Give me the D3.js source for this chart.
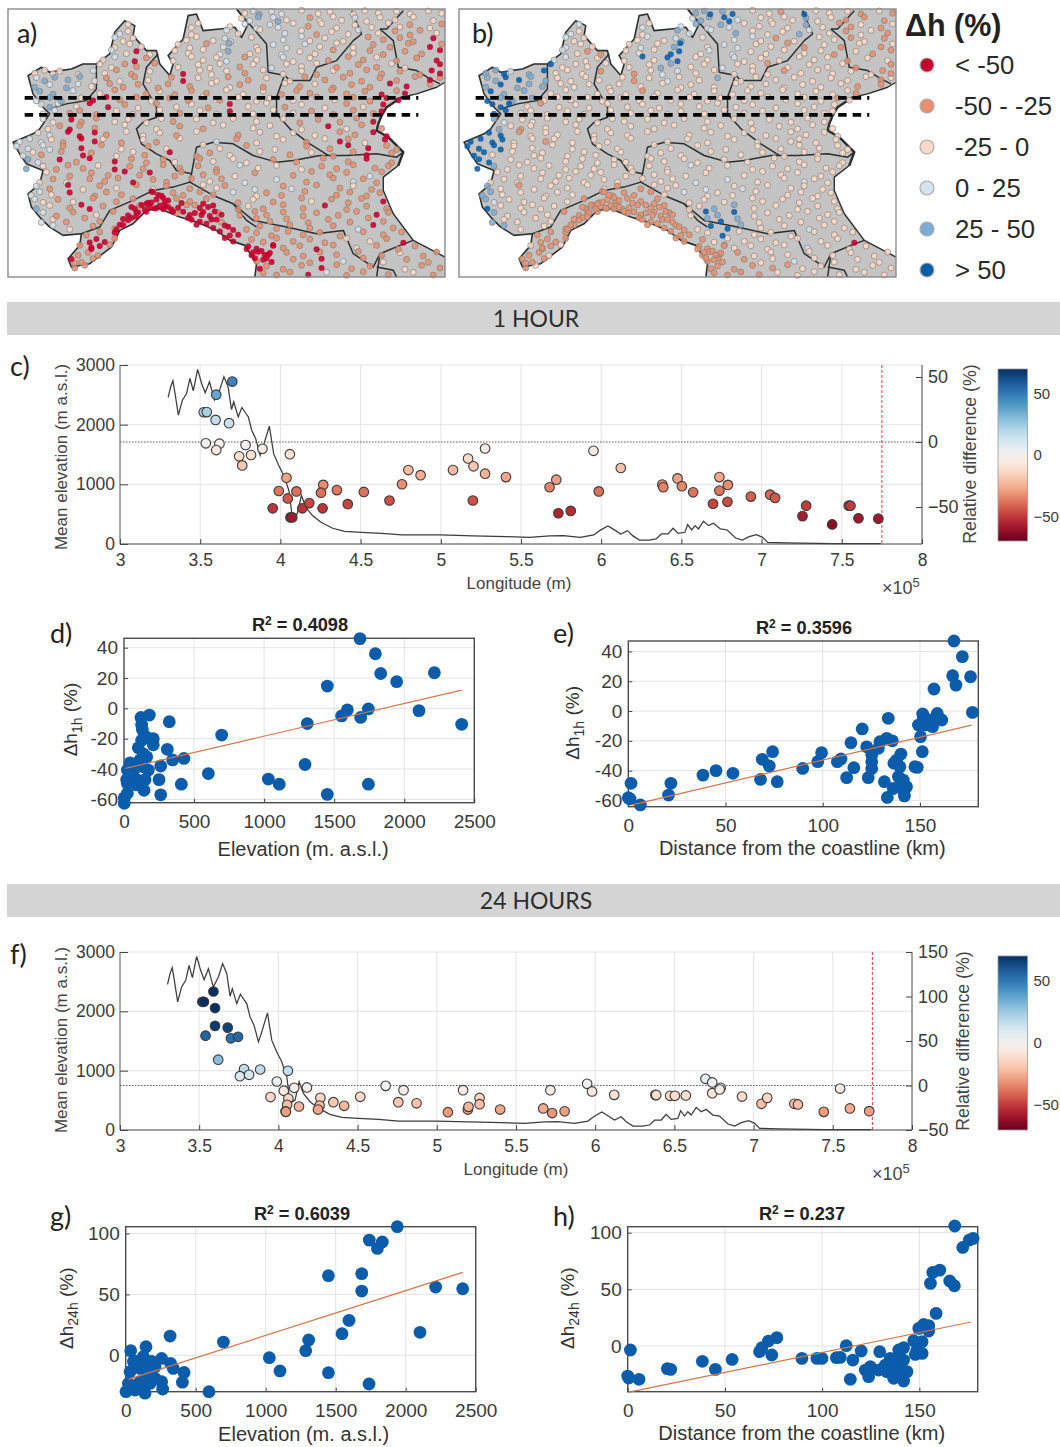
<!DOCTYPE html>
<html><head><meta charset="utf-8">
<script src="https://cdn.jsdelivr.net/npm/d3@7"></script>
<style>
html,body{margin:0;padding:0;background:#fff}
svg{display:block}
text{font-family:"Liberation Sans",Arial,sans-serif;fill:#3a3a3a}
.soft{font-family:Lato,"Open Sans",sans-serif}
</style></head><body>
<svg id="c" width="1060" height="1447"></svg>
<script>
// ---------- elevation profile (shared by panels c and f) ----------
const profileLon=[3.30,3.316,3.33,3.343,3.364,3.389,3.415,3.436,3.457,3.484,3.509,3.531,3.558,3.589,3.621,3.648,3.674,3.695,3.709,3.737,3.76,3.785,3.80,3.821,3.846,3.874,3.895,3.931,3.958,3.989,4.021,4.053,4.074,4.105,4.131,4.158,4.20,4.253,4.326,4.40,4.505,4.632,4.758,5,5.2,5.41,5.554,5.68,5.764,5.87,5.954,5.99,6.042,6.09,6.122,6.164,6.196,6.238,6.30,6.343,6.375,6.417,6.448,6.48,6.522,6.539,6.564,6.585,6.606,6.638,6.669,6.70,6.743,6.785,6.838,6.88,6.922,6.968,7.006,7.038,7.154,7.448,7.743];
const profileElev=[2456,2635,2736,2523,2159,2411,2523,2776,2568,2927,2691,2534,2719,2411,2579,2804,2635,2254,2383,2131,2288,2187,2131,1906,1766,1486,1654,1974,1514,1318,1149,897,449,505,813,617,477,364,264,213,196,179,151,151,135,123,112,135,140,112,151,224,303,224,168,224,140,67,67,84,168,168,264,179,196,325,235,308,252,381,308,348,252,235,101,67,123,157,112,28,17,6,6];
// ---------- panel c ----------
const lon1h=[3.70,3.60,3.522,3.541,3.596,3.68,3.535,3.62,3.60,3.783,3.888,3.743,3.817,3.762,4.059,4.038,3.99,4.10,4.046,3.952,4.063,4.074,4.137,4.18,4.267,4.253,4.263,4.352,4.42,4.52,4.68,4.758,4.798,4.874,5.076,5.17,5.204,5.20,5.276,5.276,5.406,5.678,5.72,5.733,5.81,5.952,5.985,6.122,6.381,6.387,6.476,6.503,6.573,6.697,6.737,6.737,6.79,6.787,6.933,7.053,7.084,7.255,7.278,7.44,7.543,7.554,7.604,7.728];
const val1h=[46.5,36.4,22.9,23,17,14.5,-1,-1.3,-6.2,-2.3,-5.2,-11,-10,-18,-9.4,-27.5,-37.7,-38,-43.4,-51,-58,-58,-51,-47,-33,-39,-51,-37,-47.8,-38.4,-45,-32.5,-21.6,-25.5,-21.6,-12.7,-18.7,-45,-5,-24.4,-27,-34.8,-29,-54.8,-53,-6.8,-38,-20,-32.7,-34.8,-28,-34,-38.7,-47.5,-27,-37.4,-33,-46,-42,-40.5,-43,-57,-49,-63.4,-49,-49,-58.7,-59];
// ---------- panel f ----------
const lon24h=[3.52,3.53,3.59,3.60,3.60,3.68,3.54,3.70,3.745,3.62,3.783,3.757,3.815,3.885,4.06,3.99,4.034,4.10,4.18,3.95,4.063,4.055,4.045,4.047,4.13,4.265,4.26,4.25,4.347,4.415,4.517,4.677,4.757,4.79,4.872,5.07,5.166,5.196,5.2,5.27,5.27,5.40,5.672,5.717,5.728,5.807,5.949,5.98,6.12,6.38,6.385,6.473,6.503,6.572,6.696,6.739,6.739,6.792,6.786,6.927,7.05,7.086,7.257,7.28,7.443,7.546,7.608,7.73];
const val24h=[94,94,105.6,87,67,65,56,53,54.7,29,18.4,10.5,12,18,16.5,4.5,-6,-2.6,-2.2,-13,-14.6,-21.7,-29,-29.6,-23.6,-13.9,-22.5,-27,-18.7,-22.8,-12.7,-0.4,-18.7,-5.2,-20,-30,-5.2,-27,-24,-14,-21,-27,-25.8,-5.2,-31,-29,1.9,-6.7,-10.5,-10.5,-10.8,-11.6,-11.6,-11.2,7.5,3.4,-8.6,-2.6,-4.5,-12.4,-20.6,-13.9,-20.6,-21.3,-29.6,-3.4,-25.8,-28.8];
// ---------- panel d ----------
const elevD=[1684,1794,1832,1946,2215,1451,2105,2410,1744,1594,1553,1689,1308,1292,1744,1451,1108,1030,697,602,323,428,309,347,409,250,262,262,181,121,126,131,209,209,162,126,102,138,162,114,138,174,90,43,24,19,90,150,143,90,24,2,2,24,67];
const valD=[46,36,23,17.6,23.5,14.7,-1.5,-10.5,-0.4,-1,-5,-6,-10,-37,-50,-56.7,-50,-46.6,-17.6,-43,-8.8,-33,-27,-34,-50,-47,-57,-38,-4.4,-6,-11,-14,-20,-24,-19,-21,-26,-30,-32,-34,-38.5,-40.7,-38.5,-36,-40.7,-47,-47,-47,-54,-50.5,-56,-59,-62.6,-49.5,-41];
const fitDx=[10,2410], fitDy=[-39.6,12];
// ---------- panel e ----------
const distE=[167.5,171.8,166.8,176,168.5,157.2,177,133.7,151.4,158.9,151.7,155.2,161.2,149.2,152.6,156.5,120.3,150.3,151.2,114.5,122.6,129.4,128.6,132.9,135.8,125.2,125.2,125.2,123.4,140.2,138,136.6,139.7,147.4,148.6,138.9,141.4,131.7,136.3,143.1,139.7,133.2,142,141.8,112.3,116,107.5,109.4,99.4,97.4,89.7,74.2,68.9,72.5,68,76.6,53.8,45.1,38.4,21.9,20.7,1.4,0,0.9,6.2];
const valE=[47,36.5,23.7,23,17.4,14.8,-0.9,-4.9,-2,-1.6,-5.6,-6,-6,-9.4,-9.4,-10.5,-12,-17.2,-27.3,-21.3,-24,-20.6,-25,-18.3,-20,-29.5,-34,-38.5,-44.7,-28.9,-32.9,-35,-37.4,-37.4,-37.8,-44,-46.3,-47.4,-52,-50.8,-50.8,-58,-57,-54,-44.7,-38,-34,-32.2,-28,-34,-38.5,-27.3,-32.4,-36.9,-45.9,-47.4,-41.8,-40,-43,-48.5,-56.4,-48.5,-58.2,-59,-63];
const fitEx=[2,176.6], fitEy=[-63,-9.4];
// ---------- panel g ----------
const elevG=[1940,1740,1833,1798,1448,1686,1686,2214,2407,1595,1545,2102,698,317,1307,1286,1026,1102,1448,1738,595,145,36,257,321,340,417,405,257,264,186,126,79,150,210,31,102,210,174,138,102,67,2,19,79,150,102,55];
const valG=[105.5,94.5,93,87.7,65.3,67,52.7,56,54.6,28.7,17.8,18.9,10.9,15.8,12.6,3.8,-1.9,-12.8,-14.2,-23.5,-29.8,7.1,3.8,-2.5,-6.6,-10.7,-14,-22,-21.6,-27.6,-5,-1,-5,-8,-9.3,-13.4,-10.7,-18.9,-23,-31,-27,-28.4,-29.8,-23,-24.3,-16,-21.6,-5];
const fitGx=[19,2407], fitGy=[-19.7,68];
// ---------- panel h ----------
const distH=[168.2,172.3,175.7,177.6,156.9,160.5,155.7,165.6,168,158.6,149.7,152.2,154.8,154.8,147.1,151.4,148.8,151.4,147.9,141.9,139.4,112.4,120.1,129.6,115.8,114.5,141.9,138.5,135,132.5,136.8,140.2,124.8,122.2,129,123.9,133.3,136.8,141.9,143.6,139.4,89.6,97.3,99.9,107.3,109.3,76.7,72.4,69,67.8,74.1,53.7,45.1,38.4,20.4,22.1,1.4,0,0.5,5.8];
const valH=[105.9,87,93.5,95,65,67,55.3,57.4,53.2,28.8,15.6,19,18,13.2,4.7,3.8,-3.5,-6.5,-7.4,-1.5,-3.5,0.3,-4.4,-5,-12.4,-29.4,-12.4,-10.9,-10.9,-16.8,-16.8,-19.7,-18.2,-21.2,-21.2,-27,-22.6,-28.5,-30.9,-22.6,-24,-10.9,-10.9,-10.9,-10.3,-10,7.4,4.4,-1.5,-5,-7.9,-11.8,-20.6,-13.5,-20,-20.6,-3.5,-26.5,-28.2,-29.4];
const fitHx=[0,176.6], fitHy=[-40.9,21.2];
// ---------- maps: land outline and internal borders, map units ----------
const coastEastX=[1335,1310,1250,1205,1160,1145,1135,1130,1165,1210,1195,1150,1150,1180,1240,1335];
const coastEastY=[245,260,280,290,320,345,370,390,410,455,495,530,570,640,720,770];
const coastWestX=[765,770,735,690,650,590,540,480,440,400,360,335,270,215,205,240,245,190,150,120,95,85,120,130,80,60,40,100,120,150,130,100,85,125,150,180,215,250,290,330,345,375,405,400,440,470,480,510,520,505,550,565,590,610,660,705,725,745,710];
const coastWestY=[830,790,735,720,690,665,650,625,630,670,690,740,790,800,775,735,700,705,680,650,620,580,550,510,490,460,425,400,385,340,320,280,225,200,215,210,205,190,190,160,95,60,75,105,150,150,190,225,190,165,115,45,40,90,85,80,110,70,25];
const borders=[
 [[150,325,200,310,260,300,290,265,290,190]],
 [[475,160,440,200,430,250,470,320,470,350,430,365,410,385,425,430,470,460,510,480,530,510,575,520,570,545]],
 [[245,700,300,680,330,630,400,600,460,570,520,560,570,545,640,585,700,610,740,660,770,680]],
 [[575,520,590,440,640,425,700,430,760,465,830,485,880,480,960,465,1040,465,1130,460,1190,470,1210,455]],
 [[855,220,830,290,830,340,870,385,930,430,985,465]],
 [[710,25,800,130,805,215,855,225,870,240,930,240,950,200,1010,180,1060,120,1085,100,1055,30]],
 [[1140,85,1180,120,1195,200,1250,210,1290,235,1320,250]],
 [[1210,30,1160,85,1140,85]],
 [[700,610,760,660,860,680,950,700,1030,690,1060,760,1120,800,1140,760,1200,735,1240,720]],
 [[1140,760,1130,830]],[[1130,800,1180,810,1190,830]]
];
const transectY=[292,343], transectX=[75,1255];
// stations: row y, then "x,dy:ab" where dy refines y and a/b are the class in map a / map b
const stationRows=[
[35,"735,3:24 760,-4:34 778,6:45 815,-3:34 845,5:35 905,-6:22 955,4:22 990,-2:21 1060,6:25 1095,-5:22 1135,2:22 1190,-3:22 1230,5:21 1285,-4:22 1325,3:21"],
[55,"725,-2:23 750,5:34 775,-6:44 835,7:45 820,-5:35 860,3:23 930,-4:12 960,6:22 1000,-7:22 1025,4:22 1065,-3:34 1100,7:22 1140,-5:22 1185,3:21 1240,-6:21 1300,5:21"],
[75,"385,-4:23 575,6:23 595,-7:22 690,3:23 735,-5:34 770,8:33 810,-3:34 835,5:33 880,-7:22 925,2:12 965,-6:22 1010,7:22 1065,-2:24 1115,5:22 1165,-8:21 1200,4:21 1230,-3:12 1290,7:21 1325,-5:12"],
[95,"360,5:33 385,-3:22 575,7:22 680,-6:34 715,4:23 780,-8:23 855,3:34 905,-5:22 950,7:12 995,-2:22 1045,6:24 1075,-7:33 1135,3:22 1185,-4:11 1230,8:12 1260,-6:12 1310,2:21"],
[115,"345,-5:33 370,7:22 400,-3:22 560,4:22 590,-7:23 640,5:22 675,-2:33 692,8:34 755,-5:22 850,3:33 905,-8:33 930,6:22 975,-3:21 1030,7:22 1105,-6:12 1150,2:12 1200,-4:11 1240,8:12 1300,-2:01"],
[135,"345,6:23 390,-5:22 425,3:22 535,-4:22 570,7:23 620,-6:12 670,4:34 688,-7:45 770,5:22 820,-3:33 860,7:33 915,-5:32 960,3:22 1010,-8:21 1060,6:21 1120,-3:12 1170,5:11 1225,-7:12 1290,4:01 1325,-5:12"],
[155,"335,-7:33 380,4:22 410,-3:01 450,7:21 525,-5:22 565,3:22 610,-8:22 660,6:35 685,-3:45 750,5:22 775,-6:23 845,7:33 900,-2:22 945,5:22 1000,-7:12 1060,3:22 1110,-5:12 1150,7:11 1215,-3:12 1265,5:11 1320,-6:01"],
[175,"310,3:23 345,-6:33 405,7:02 440,-3:12 520,6:22 575,-7:25 610,4:22 650,-4:25 680,7:35 735,-6:12 770,3:22 850,-5:33 880,8:22 930,-3:22 985,5:12 1045,-7:12 1090,3:12 1130,-5:22 1190,6:11 1250,-3:12 1310,5:02"],
[195,"300,-4:25 335,6:22 375,-5:12 410,3:12 465,-7:12 535,5:22 595,-3:22 630,7:24 660,-6:24 720,4:12 760,-4:22 815,7:33 860,-5:22 905,3:22 950,-7:21 1010,6:12 1075,-3:12 1130,5:12 1175,-6:22 1215,7:21 1320,-4:01"],
[215,"105,3:24 135,-6:24 160,5:25 180,-3:23 235,7:24 280,-5:35 315,3:22 350,-7:12 395,6:12 450,-3:21 550,5:01 600,-6:22 635,7:23 680,-4:23 735,3:12 790,-7:22 850,6:22 905,-4:22 950,7:12 1000,-5:21 1050,3:12 1100,-7:12 1145,5:12 1200,-3:12 1260,7:12 1295,-5:01 1320,4:01"],
[235,"110,-4:34 135,6:44 165,-5:45 205,3:45 240,-7:44 285,6:34 320,-3:12 360,7:22 405,-6:12 445,4:22 515,-5:12 550,6:01 595,-3:22 650,7:23 685,-6:12 745,4:12 800,-3:24 870,7:22 915,-6:12 975,3:12 1030,-5:12 1085,7:12 1140,-3:12 1190,5:12 1245,-7:12 1290,3:01 1320,-4:12"],
[255,"105,5:44 150,-3:35 200,7:44 235,-5:34 275,3:24 330,-6:12 370,5:12 415,-4:12 475,7:12 505,-5:12 570,3:12 635,-7:22 690,6:22 720,-3:12 790,5:12 855,-7:22 900,3:12 945,-5:22 1000,7:12 1055,-3:12 1110,5:12 1170,-6:02 1220,3:01 1290,-4:11"],
[275,"120,-3:45 160,6:44 220,-5:34 300,4:22 345,-7:12 440,5:12 480,-3:22 525,7:12 575,-5:11 620,3:12 680,-7:22 730,6:22 790,-4:22 845,7:12 890,-5:12 930,3:12 995,-7:12 1040,5:12 1095,-3:12 1145,7:02 1190,-5:12 1215,4:01"],
[295,"110,6:35 150,-4:44 185,7:44 245,-3:24 280,5:02 320,-6:02 360,3:12 410,-5:12 455,7:22 510,-3:12 565,5:12 610,-7:22 660,4:12 715,-5:22 770,7:22 810,-3:22 880,5:22 950,-6:12 1005,3:22 1060,-5:12 1110,7:12 1160,-3:01 1195,4:02"],
[315,"125,-4:35 150,5:45 175,-6:35 230,3:22 270,-7:01 325,5:02 375,-3:12 415,7:22 470,-6:12 530,4:22 575,-4:22 625,7:12 690,-5:02 745,3:22 800,-7:22 855,5:12 905,-3:22 975,7:22 1040,-6:12 1090,4:22 1150,-3:02"],
[335,"130,5:35 165,-6:35 210,3:12 240,-5:12 290,7:12 350,-4:22 400,6:22 480,-7:22 540,3:12 600,-5:22 650,7:22 690,-3:02 760,5:22 820,-7:22 880,3:22 935,-4:12 1000,7:12 1060,-6:12 1120,4:12 1145,-3:02"],
[360,"130,-5:34 160,6:23 215,-3:02 245,5:12 290,-7:12 345,4:22 385,-4:22 440,7:22 485,-6:22 520,3:12 590,-4:22 640,7:22 700,-6:22 770,3:22 850,-5:22 900,7:12 955,-3:12 1020,5:12 1070,-7:12 1120,4:02"],
[380,"145,6:24 180,-4:12 210,7:01 240,-5:12 285,3:12 375,-7:22 470,6:22 540,-3:12 610,5:12 670,-6:22 760,3:22 810,-5:22 905,7:22 985,-3:02 1040,5:22 1085,-7:12 1145,4:12"],
[400,"115,-3:25 150,5:35 205,-6:01 240,7:02 285,-4:02 320,3:12 380,-7:22 430,6:22 480,-3:22 530,5:12 590,-7:22 715,4:12 780,-5:22 830,7:22 880,-3:22 945,5:22 1020,-6:12 1065,3:12 1120,-5:02 1160,7:02"],
[420,"60,4:35 90,-5:35 125,6:35 155,-3:25 190,7:12 245,-6:02 285,3:01 310,-5:22 365,7:12 430,-3:22 470,5:12 540,-7:22 650,4:32 710,-5:12 770,7:22 850,-3:22 920,5:12 975,-6:22 1020,3:02 1045,-5:12 1095,7:22 1155,-3:02"],
[440,"50,-3:35 85,5:35 130,-6:35 150,7:35 190,-4:12 245,3:02 305,-7:12 365,6:22 445,-3:12 500,5:22 610,-7:22 660,4:22 740,-5:12 825,7:22 920,-3:12 990,5:12 1045,-6:02 1105,3:02 1160,-5:12 1190,7:12"],
[460,"70,6:35 100,-5:25 125,3:12 185,-7:12 250,5:02 275,-3:12 350,7:22 400,-6:22 435,4:12 510,-5:02 590,7:12 630,-3:12 690,5:22 780,-7:22 870,3:12 935,-4:22 1000,7:12 1060,-6:12 1100,4:02 1175,-3:12"],
[480,"85,-4:45 115,6:35 180,-3:02 230,5:12 270,-7:02 345,3:02 395,-5:12 440,7:12 490,-3:12 525,5:22 600,-6:12 640,3:22 700,-5:22 740,7:22 820,-3:12 890,5:12 970,-7:12 1045,4:12 1100,-5:02 1175,7:12"],
[500,"80,5:45 130,-3:24 170,7:12 205,-6:12 250,4:12 295,-5:22 345,7:02 390,-3:12 430,5:12 490,-7:12 540,3:12 595,-4:12 650,7:12 720,-6:33 775,3:22 830,-5:22 905,7:22 965,-3:12 1010,5:12 1060,-7:12 1125,3:12 1165,-4:12"],
[520,"140,-5:22 210,7:12 275,-3:12 325,5:12 375,-7:02 420,4:12 450,-4:02 525,7:12 545,-6:12 610,3:12 650,-5:12 705,7:22 765,-3:12 880,5:12 935,-7:12 990,3:12 1040,-4:12 1110,7:32 1145,-6:12"],
[540,"120,6:22 160,-4:12 200,7:22 270,-5:12 315,3:12 355,-7:12 400,6:02 460,-3:12 500,5:12 575,-6:12 630,3:22 665,-5:12 735,7:33 830,-3:33 920,5:12 1000,-7:12 1060,4:33 1090,-5:12 1130,7:12"],
[560,"110,-3:34 150,5:12 205,-6:01 250,7:22 300,-4:12 350,3:22 410,-7:12 460,6:22 500,-3:11 570,5:11 610,-7:22 650,3:22 675,-5:12 765,7:33 850,-3:12 875,5:33 950,-6:12 1020,3:12 1060,-4:22 1115,7:12"],
[580,"95,5:34 120,-6:34 155,3:22 210,-4:02 285,7:12 320,-5:12 365,3:12 455,-7:01 485,6:01 520,-3:11 550,5:11 600,-6:11 640,3:12 700,-5:33 770,7:22 800,-3:12 845,5:12 915,-7:12 1010,4:12 1050,-5:12 1100,7:12 1140,-3:12"],
[600,"105,-4:34 130,6:23 175,-3:12 220,5:22 280,-7:12 350,4:12 400,-5:11 445,7:01 470,-3:01 495,5:01 530,-6:11 570,3:11 620,-5:11 715,7:12 760,-3:22 820,5:12 905,-7:12 935,3:22 995,-4:12 1045,7:12 1085,-6:12 1150,3:02"],
[620,"110,5:45 150,-5:22 210,3:12 245,-7:02 270,6:02 310,-3:12 405,5:01 425,-6:01 470,3:01 495,-4:01 515,7:01 560,-6:11 600,3:01 640,-5:01 715,7:12 745,-3:22 790,5:14 850,-7:14 910,4:12 975,-5:02 1040,7:12 1100,-3:12 1160,5:12"],
[640,"130,-4:34 170,7:12 220,-5:12 290,3:22 340,-7:11 385,5:01 410,-3:01 440,-6:01 530,-2:11 570,4:01 610,-5:01 630,7:01 655,-3:11 720,5:12 765,-7:15 800,4:14 850,-5:15 910,7:12 950,-3:12 1015,5:12 1070,-7:12 1130,3:02 1165,-4:12"],
[660,"125,6:34 160,-3:22 200,5:12 255,-7:12 300,3:12 370,-4:01 395,-8:01 565,-7:01 600,4:01 635,-3:01 665,5:11 770,-6:14 810,3:15 860,-5:14 925,7:12 985,-3:12 1050,5:12 1105,-7:12 1150,3:12"],
[680,"160,-5:34 210,7:22 280,-3:12 345,5:11 370,-6:01 640,3:01 675,-5:01 740,7:12 780,-3:15 830,5:15 870,-7:14 930,3:12 1000,-4:12 1075,7:33 1120,-6:02 1180,3:12"],
[700,"260,4:11 300,-5:11 345,-4:01 660,-7:01 690,5:01 770,-3:12 815,6:15 865,-7:12 910,3:12 960,-4:12 1020,7:12 1090,-6:12 1150,3:12 1205,-5:12"],
[720,"270,6:01 290,-4:01 315,5:01 345,-6:11 675,-7:01 700,3:01 755,-3:11 790,5:12 830,-7:12 880,3:12 930,-4:12 975,7:12 1040,-6:22 1110,3:22 1160,-5:12 1210,7:00"],
[740,"240,-5:12 275,6:01 300,-3:01 330,-7:12 745,-2:01 770,5:01 820,-6:01 850,3:12 900,-4:12 950,7:02 1000,-6:12 1070,3:33 1130,-5:12 1195,7:12 1245,-3:12"],
[760,"235,5:11 265,-4:11 295,6:12 755,5:01 775,-6:01 805,3:01 860,-4:11 910,7:12 960,-5:12 1010,3:12 1075,-7:12 1145,5:12 1200,-3:22 1270,7:12 1310,-5:12"],
[780,"215,-4:01 245,6:11 280,-5:11 770,3:11 800,-6:01 815,5:01 880,-3:11 930,7:12 965,-5:02 1030,3:33 1090,-7:12 1150,5:22 1220,-3:12 1285,6:12"],
[800,"225,3:11 255,-5:12 780,5:01 800,-3:11 850,7:11 905,-5:11 965,3:01 1010,-7:11 1055,5:12 1110,-3:12 1215,7:22 1265,-5:12 1320,3:12"],
[820,"790,-3:11 830,4:11 870,-5:11 925,3:01 980,-4:32 1040,5:12 1090,-6:12 1165,3:12 1240,-4:22 1300,4:12"],
[630,"395,-10:01 415,6:01 435,-3:01 450,-12:01 465,-6:01 480,-15:01 490,-4:01 505,-10:01 520,3:01 535,-8:01 550,4:01 585,8:01 605,14:01 625,-10:01 645,3:01"],
[665,"575,-7:01 590,8:01 620,5:01 650,-8:01 665,-22:01 685,14:01 700,24:01 715,38:01 385,-6:01 410,-16:01 360,8:01 350,22:01"],
[770,"740,-24:01 760,-14:01 785,-18:01 795,-6:01 820,-34:01 765,4:01 790,8:01 810,-12:01 275,-28:01 225,18:11"],
[590,"460,-15:01 475,-6:01 490,2:01 505,10:01 455,16:01 440,20:01 420,25:11 545,18:01 585,24:11 610,20:01"]
];
const legendLabels=["< -50","-50 - -25","-25 - 0","0 - 25","25 - 50","> 50"];
const legendColors=["#c4002b","#e8906c","#fbd9c6","#d3e3f0","#7bacd6","#0a5ea6"];

// ---------- drawing ----------
const svg=d3.select("#c");
const pairs=(a,b)=>a.map((v,i)=>[v,b[i]]);
function txt(g,x,y,s,o={}){
  const t=g.append("text").attr("x",x).attr("y",y).attr("text-anchor",o.anchor||"middle")
    .attr("font-size",o.size||16).attr("font-weight",o.weight||"normal").text(s);
  if(o.cls)t.attr("class",o.cls);
  if(o.rotate!=null)t.attr("transform",`rotate(${o.rotate} ${x} ${y})`);
  if(o.fill)t.style("fill",o.fill);
  return t;
}
const colorScale=d3.scaleLinear().domain([-70,70]).range([0,1]);
const cmap=v=>d3.interpolateRdBu(colorScale(v));

function drawMap(left,key){
  const top=9,w=437,h=268;
  const g=svg.append("g");
  const sx=d3.scaleLinear().domain([25,1335]).range([left,left+w]);
  const sy=d3.scaleLinear().domain([25,830]).range([top,top+h]);
  const line=d3.line().x(d=>sx(d[0])).y(d=>sy(d[1]));
  const east=pairs(coastEastX,coastEastY), west=pairs(coastWestX,coastWestY);
  const land=[...east,[1335,830],...west,[1335,25]];
  g.append("path").attr("d",line(land)+"Z").attr("fill","#c4c4c4");
  const stroke=(pts,wd)=>g.append("path").attr("d",line(pts)).attr("fill","none").attr("stroke","#2b2f2f").attr("stroke-width",wd).attr("stroke-linejoin","round");
  stroke(west,1.6);stroke(east,1.4);
  stroke(east.slice(3,11),2.4);
  borders.forEach(b=>{const f=b[0],p=[];for(let i=0;i<f.length;i+=2)p.push([f[i],f[i+1]]);stroke(p,1.5);});
  const stations=stationRows.flatMap(([y,s])=>s.split(" ").map(tok=>{
    const [x,dy,c]=tok.split(/[,:]/);return {x:+x,y:y+(+dy),a:+c[0],b:+c[1]};}));
  const sorted=stations.slice().sort((p,q)=>Math.abs(p[key]-2.5)-Math.abs(q[key]-2.5));
  g.selectAll("circle.s").data(sorted).enter().append("circle").attr("class","s")
    .attr("cx",d=>sx(d.x)).attr("cy",d=>sy(d.y)).attr("r",3)
    .attr("fill",d=>legendColors[d[key]]).attr("fill-opacity",.88)
    .attr("stroke",d=>(d[key]==0||d[key]==5)?"none":"#8a7f7a").attr("stroke-width",.7);
  transectY.forEach(y=>g.append("line").attr("x1",sx(transectX[0])).attr("x2",sx(transectX[1]))
    .attr("y1",sy(y)).attr("y2",sy(y)).attr("stroke","#000").attr("stroke-width",3.6).attr("stroke-dasharray","8.5 6"));
  g.append("rect").attr("x",left).attr("y",top).attr("width",w).attr("height",h).attr("fill","none").attr("stroke","#8a8a8a").attr("stroke-width",1.4);
}
drawMap(8,"a");drawMap(459,"b");
txt(svg,17,43,"a)",{anchor:"start",size:27,cls:"soft",fill:"#222"});
txt(svg,472,43,"b)",{anchor:"start",size:27,cls:"soft",fill:"#222"});
txt(svg,905,36,"Δh (%)",{anchor:"start",size:30.5,weight:"bold",fill:"#222"});
const legY=d3.scalePoint().domain(legendLabels).range([65,270]);
legendLabels.forEach((l,i)=>{
  svg.append("circle").attr("cx",927).attr("cy",legY(l)).attr("r",7).attr("fill",legendColors[i]).attr("stroke","#aaa").attr("stroke-width",1.2);
  txt(svg,955,legY(l)+9,l,{anchor:"start",size:25.7,fill:"#2a2a2a"});
});

function banner(y,label){
  svg.append("rect").attr("x",7).attr("y",y).attr("width",1053).attr("height",33).attr("fill","#d4d4d4");
  txt(svg,536,y+25,label,{size:23,cls:"soft",fill:"#2e2e2e"});
}
banner(302,"1 HOUR");banner(884,"24 HOURS");

function axisStyle(a,size){
  a.selectAll(".domain").remove();
  a.selectAll(".tick line").attr("stroke","#444");
  a.selectAll(".tick text").attr("font-size",size).style("font-family",'"Liberation Sans",Arial,sans-serif').style("fill","#3a3a3a");
}
function profilePanel(o){
  const g=svg.append("g");
  const x=d3.scaleLinear().domain([3,8]).range([120,o.right]);
  const yL=d3.scaleLinear().domain([0,3000]).range([o.bottom,o.top]);
  const yR=d3.scaleLinear().domain(o.rDomain).range(o.rRange);
  g.selectAll("line.gx").data(d3.range(3.5,8,.5)).enter().append("line")
    .attr("x1",x).attr("x2",x).attr("y1",o.top).attr("y2",o.bottom).attr("stroke","#e4e4e4");
  g.selectAll("line.gy").data([1000,2000,3000]).enter().append("line")
    .attr("x1",120).attr("x2",o.right).attr("y1",yL).attr("y2",yL).attr("stroke","#e4e4e4");
  g.append("path").attr("d",d3.line().x(d=>x(d[0])).y(d=>yL(d[1]))(pairs(profileLon,profileElev)))
    .attr("fill","none").attr("stroke","#3c3c3c").attr("stroke-width",1.25);
  g.append("line").attr("x1",120).attr("x2",o.right).attr("y1",yR(0)).attr("y2",yR(0))
    .attr("stroke","#555").attr("stroke-dasharray","1.5 1.5");
  g.append("line").attr("x1",x(7.75)).attr("x2",x(7.75)).attr("y1",o.top).attr("y2",o.bottom)
    .attr("stroke","#ea3b45").attr("stroke-dasharray","3 2");
  g.selectAll("circle.p").data(pairs(o.lon,o.val)).enter().append("circle").attr("class","p")
    .attr("cx",d=>x(d[0])).attr("cy",d=>yR(d[1])).attr("r",4.8)
    .attr("fill",d=>cmap(d[1])).attr("stroke","#3a3a3a").attr("stroke-width",1.1);
  const ax=g.append("g").attr("transform",`translate(0,${o.bottom})`)
    .call(d3.axisBottom(x).tickValues(d3.range(3,8.01,.5)).tickFormat(d=>d).tickSizeInner(-5).tickSizeOuter(0).tickPadding(10));
  axisStyle(ax,17.5);
  const al=g.append("g").attr("transform","translate(120,0)")
    .call(d3.axisLeft(yL).tickValues([0,1000,2000,3000]).tickFormat(d=>d).tickSizeInner(-8).tickSizeOuter(0).tickPadding(5));
  axisStyle(al,17.5);
  const ar=g.append("g").attr("transform",`translate(${o.right},0)`)
    .call(d3.axisRight(yR).tickValues(o.rTicks).tickSizeInner(-6).tickSizeOuter(0).tickPadding(6));
  axisStyle(ar,18);
  g.append("line").attr("x1",120).attr("x2",o.right).attr("y1",o.bottom).attr("y2",o.bottom).attr("stroke","#444").attr("stroke-width",1.2);
  g.append("line").attr("x1",120).attr("x2",120).attr("y1",o.top).attr("y2",o.bottom).attr("stroke","#555");
  g.append("line").attr("x1",o.right).attr("x2",o.right).attr("y1",o.top).attr("y2",o.bottom).attr("stroke","#444");
  txt(g,o.lonX,o.bottom+45,"Longitude (m)",{size:17,fill:"#444"});
  const m=txt(g,o.right-40,o.bottom+50,"×10",{anchor:"start",size:18,fill:"#444"});
  m.append("tspan").attr("dy",-7).attr("font-size",13).text("5");
  txt(g,67,o.mY,"Mean elevation (m a.s.l.)",{size:17,rotate:-90,fill:"#444"});
  txt(g,o.rLabelX,o.rY,"Relative difference (%)",{size:17.8,rotate:-90,fill:"#444"});
  // colour bar
  const cb=d3.scaleLinear().domain([-70,70]).range([o.cb[1],o.cb[0]]);
  const gid="grad"+o.id, grad=svg.append("defs").append("linearGradient").attr("id",gid).attr("x1",0).attr("y1",1).attr("x2",0).attr("y2",0);
  d3.range(0,1.001,.05).forEach(t=>grad.append("stop").attr("offset",t).attr("stop-color",d3.interpolateRdBu(t)));
  g.append("rect").attr("x",998).attr("y",o.cb[0]).attr("width",29.5).attr("height",o.cb[1]-o.cb[0]).attr("fill",`url(#${gid})`).attr("stroke","#999").attr("stroke-width",.8);
  const ac=g.append("g").attr("transform","translate(1027.5,0)").call(d3.axisRight(cb).tickValues([-50,0,50]).tickSize(0).tickPadding(6));
  axisStyle(ac,15);
}
profilePanel({id:"c",top:365,bottom:544,right:922,rDomain:[-50,50],rRange:[507,377],rTicks:[-50,0,50],lon:lon1h,val:val1h,lonX:519,rLabelX:976,rY:454,mY:457,cb:[369,541]});
profilePanel({id:"f",top:952,bottom:1130,right:912,rDomain:[-50,150],rRange:[1130,952],rTicks:[-50,0,50,100,150],lon:lon24h,val:val24h,lonX:516,rLabelX:969,rY:1041,mY:1040,cb:[956,1130]});
txt(svg,10,376,"c)",{anchor:"start",size:27,cls:"soft",fill:"#222"});
txt(svg,10,964,"f)",{anchor:"start",size:27,cls:"soft",fill:"#222"});

function scatterPanel(o){
  const g=svg.append("g");
  const x=d3.scaleLinear().domain(o.xd).range([o.l,o.r]);
  const y=d3.scaleLinear().domain(o.yd).range([o.b,o.t]);
  g.selectAll("line.gx").data(o.xt.slice(1)).enter().append("line").attr("x1",x).attr("x2",x).attr("y1",o.t).attr("y2",o.b).attr("stroke","#e3e3e3");
  g.selectAll("line.gy").data(o.yt).enter().append("line").attr("x1",o.l).attr("x2",o.r).attr("y1",y).attr("y2",y).attr("stroke","#e3e3e3");
  const ax=g.append("g").attr("transform",`translate(0,${o.b})`).call(d3.axisBottom(x).tickValues(o.xt).tickSizeInner(-4).tickSizeOuter(0).tickPadding(12).tickFormat(d=>d));
  axisStyle(ax,19);
  const al=g.append("g").attr("transform",`translate(${o.l},0)`).call(d3.axisLeft(y).tickValues(o.yt).tickSizeInner(-4).tickSizeOuter(0).tickPadding(6).tickFormat(d=>d));
  axisStyle(al,19);
  g.append("rect").attr("x",o.l).attr("y",o.t).attr("width",o.r-o.l).attr("height",o.b-o.t).attr("fill","none").attr("stroke","#4a4a4a").attr("stroke-width",1.4);
  g.selectAll("circle.p").data(pairs(o.xs,o.ys)).enter().append("circle").attr("class","p")
    .attr("cx",d=>x(d[0])).attr("cy",d=>y(d[1])).attr("r",6.4).attr("fill","#0b5cab");
  g.append("path").attr("d",d3.line().x(d=>x(d[0])).y(d=>y(d[1]))(pairs(o.fx,o.fy)))
    .attr("fill","none").attr("stroke","#d4744a").attr("stroke-width",1.2);
  const t=txt(g,o.titleX,o.t-7,"R",{size:18.2,weight:"bold",fill:"#222"});
  t.append("tspan").attr("dy",-6).attr("font-size",12).text("2");
  t.append("tspan").attr("dy",6).text(" = "+o.r2);
  txt(g,(o.l+o.r)/2+o.xlOff,o.xlY,o.xl,{size:20,fill:"#333"});
  const yc=(o.t+o.b)/2-1, yl=txt(g,o.ylx,yc,"Δh",{size:19,rotate:-90,fill:"#333"});
  yl.append("tspan").attr("dy",5).attr("font-size",14).text(o.sub);
  yl.append("tspan").attr("dy",-5).text(" (%)");
}
const ex=[0,500,1000,1500,2000,2500], dx=[0,50,100,150];
scatterPanel({l:124,r:474.3,t:638.3,b:802.7,xd:[0,2500],yd:[-62.2,46.2],xt:ex,yt:[-60,-40,-20,0,20,40],xs:elevD,ys:valD,fx:fitDx,fy:fitDy,r2:"0.4098",titleX:300,xl:"Elevation  (m. a.s.l.)",xlOff:4,xlY:856,ylx:77,sub:"1h"});
scatterPanel({l:628.3,r:978.3,t:641,b:806.7,xd:[0,180],yd:[-64.2,47],xt:dx,yt:[-60,-40,-20,0,20,40],xs:distE,ys:valE,fx:fitEx,fy:fitEy,r2:"0.3596",titleX:804,xl:"Distance from the coastline (km)",xlOff:-1,xlY:855,ylx:579,sub:"1h"});
scatterPanel({l:125.7,r:475.7,t:1226.7,b:1391.7,xd:[0,2500],yd:[-29.8,105.5],xt:ex,yt:[0,50,100],xs:elevG,ys:valG,fx:fitGx,fy:fitGy,r2:"0.6039",titleX:302,xl:"Elevation  (m. a.s.l.)",xlOff:3,xlY:1441,ylx:73,sub:"24h"});
scatterPanel({l:627.7,r:977.7,t:1226.7,b:1391.7,xd:[0,180],yd:[-40.3,105.3],xt:dx,yt:[0,50,100],xs:distH,ys:valH,fx:fitHx,fy:fitHy,r2:"0.237",titleX:802,xl:"Distance from the coastline (km)",xlOff:-1,xlY:1440,ylx:574,sub:"24h"});
txt(svg,50,643,"d)",{anchor:"start",size:27,cls:"soft",fill:"#222"});
txt(svg,553,643,"e)",{anchor:"start",size:27,cls:"soft",fill:"#222"});
txt(svg,50,1226,"g)",{anchor:"start",size:27,cls:"soft",fill:"#222"});
txt(svg,553,1226,"h)",{anchor:"start",size:27,cls:"soft",fill:"#222"});
</script>
</body></html>
